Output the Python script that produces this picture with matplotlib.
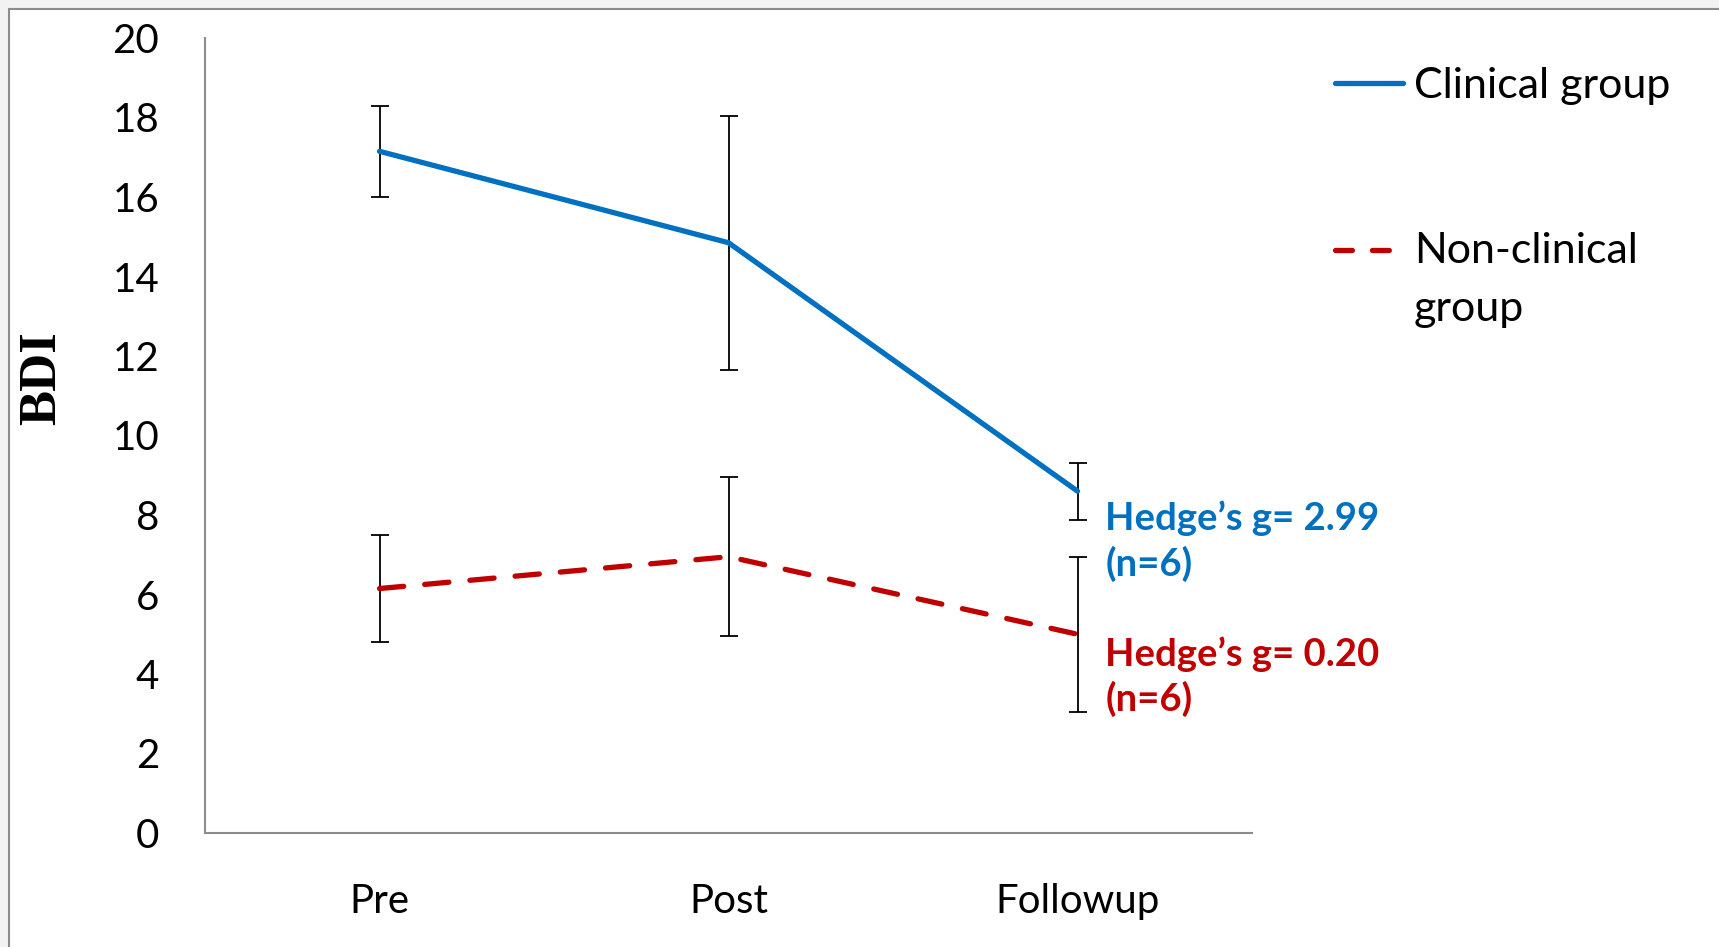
import matplotlib
matplotlib.use("Agg")
import matplotlib.pyplot as plt
from matplotlib.lines import Line2D
from matplotlib.patches import Rectangle

# data
timepoints = ["Pre", "Post", "Followup"]
clinical_mean = [17.15, 14.85, 8.6]
clinical_err = [1.15, 3.2, 0.72]
nonclinical_mean = [6.15, 6.95, 5.0]
nonclinical_err = [1.35, 2.0, 1.95]
yticks = [0, 2, 4, 6, 8, 10, 12, 14, 16, 18, 20]

BLUE = "#0070C0"
RED = "#C00000"
W, H = 1719, 947

plt.rcParams["font.family"] = ["Lato", "DejaVu Sans"]

fig = plt.figure(figsize=(W / 100, H / 100), dpi=100)
fig.patch.set_facecolor("#f2f2f2")
# chart area border (Excel style)
fig.add_artist(Rectangle((9 / W, -0.1), 1.2, 1 - 9 / H + 0.1,
                         transform=fig.transFigure, facecolor="white",
                         edgecolor="#8c8c8c", lw=1.5, zorder=0))

ax = fig.add_axes([205 / W, 1 - 833 / H, (1252 - 205) / W, (833 - 38) / H])
ax.set_facecolor("none")
x = range(len(timepoints))

ax.errorbar(x, clinical_mean, yerr=clinical_err, fmt="none", ecolor="black",
            elinewidth=1.3, capsize=6.5, capthick=1.3, zorder=2)
ax.errorbar(x, nonclinical_mean, yerr=nonclinical_err, fmt="none", ecolor="black",
            elinewidth=1.3, capsize=6.5, capthick=1.3, zorder=2)
ax.plot(x, clinical_mean, color=BLUE, lw=3.8, solid_capstyle="round", zorder=3)
ax.plot(x, nonclinical_mean, color=RED, lw=3.8, dashes=(4.6, 4.0),
        dash_capstyle="round", zorder=3)

ax.set_xlim(-0.5, 2.5)
ax.set_ylim(0, 20)
ax.set_yticks(yticks)
ax.set_xticks(list(x))
ax.set_xticklabels(timepoints)
ax.tick_params(axis="both", length=0, labelsize=29)
ax.tick_params(axis="y", pad=33)
ax.tick_params(axis="x", pad=36)
for s in ["top", "right"]:
    ax.spines[s].set_visible(False)
for s in ["left", "bottom"]:
    ax.spines[s].set_color("#8c8c8c")
    ax.spines[s].set_linewidth(1.5)

fig.text(42 / W, 1 - 378 / H, "BDI", rotation=90, ha="center", va="center",
         fontsize=38, fontweight="bold", family="Liberation Serif")

ax.text(2.08, 7.34, "Hedge\u2019s g= 2.99\n(n=6)", color=BLUE, fontsize=27.5,
        fontweight="bold", ha="left", va="center", linespacing=1.3)
ax.text(2.08, 3.93, "Hedge\u2019s g= 0.20\n(n=6)", color=RED, fontsize=27.5,
        fontweight="bold", ha="left", va="center", linespacing=1.3)

# legend
fig.add_artist(Line2D([1335 / W, 1403 / W], [1 - 83 / H] * 2, color=BLUE, lw=3.8,
                      solid_capstyle="round", transform=fig.transFigure))
fig.add_artist(Line2D([1335 / W, 1403 / W], [1 - 250 / H] * 2, color=RED, lw=3.8,
                      dashes=(3.2, 3.8), dash_capstyle="round", transform=fig.transFigure))
fig.text(1414 / W, 1 - 86 / H, "Clinical group", fontsize=31, ha="left", va="center")
fig.text(1414 / W, 1 - 251 / H, "Non-clinical", fontsize=31, ha="left", va="center")
fig.text(1414 / W, 1 - 309 / H, "group", fontsize=31, ha="left", va="center")

fig.savefig("out.png", dpi=100, facecolor=fig.get_facecolor())
